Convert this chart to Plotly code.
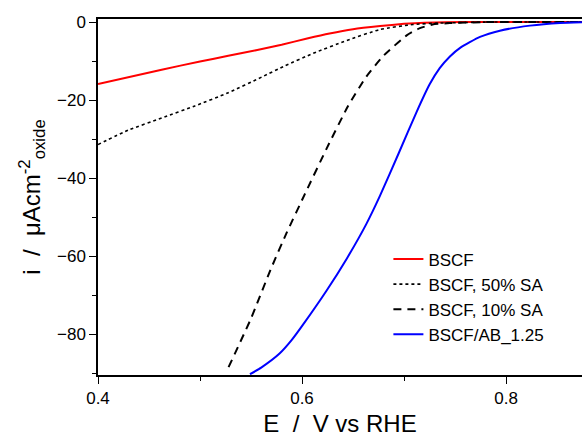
import plotly.graph_objects as go

# BSCF (red)
bscf_x = [0.40, 0.4624, 0.50, 0.5277, 0.555, 0.58, 0.605, 0.627, 0.65, 0.6765, 0.70, 0.72, 0.76, 0.80, 0.875]
bscf_y = [-15.9, -12.2, -10.1, -8.65, -7.2, -5.8, -4.2, -2.9, -1.8, -1.0, -0.45, -0.15, 0.0, 0.0, 0.0]

# BSCF, 50% SA (dotted)
sa50_x = [0.40, 0.4297, 0.4624, 0.495, 0.5277, 0.5604, 0.5833, 0.611, 0.644, 0.6765, 0.709, 0.735, 0.78, 0.875]
sa50_y = [-31.4, -27.7, -24.6, -21.5, -18.1, -14.1, -11.2, -8.0, -4.7, -1.9, -0.6, -0.25, 0.0, 0.0]

# BSCF, 10% SA (dashed)
sa10_x = [0.528, 0.55, 0.569, 0.585, 0.603, 0.624, 0.645, 0.663, 0.68, 0.7026, 0.715, 0.728, 0.745, 0.78, 0.875]
sa10_y = [-88.5, -76.0, -63.6, -54.0, -44.0, -32.5, -21.6, -14.0, -8.6, -3.4, -1.6, -0.6, -0.25, 0.0, 0.0]

# BSCF/AB_1.25 (blue)
ab_x = [0.549, 0.56, 0.578, 0.59, 0.601, 0.624, 0.644, 0.663, 0.6765, 0.695, 0.7124, 0.725, 0.735, 0.745,
        0.755, 0.7745, 0.794, 0.8235, 0.853, 0.875]
ab_y = [-90.3, -88.6, -85.0, -81.5, -77.6, -68.9, -60.6, -51.8, -44.5, -33.5, -23.0, -16.0, -11.8, -8.8,
        -6.6, -3.8, -2.2, -0.9, -0.2, 0.0]

names = ["BSCF", "BSCF, 50% SA", "BSCF, 10% SA", "BSCF/AB_1.25"]

font_family = "Liberation Sans, Arial, sans-serif"

fig = go.Figure()
fig.add_trace(go.Scatter(x=bscf_x, y=bscf_y, mode="lines", name=names[0],
                         line=dict(color="#ff0000", width=2, shape="spline", smoothing=0.5)))
fig.add_trace(go.Scatter(x=sa50_x, y=sa50_y, mode="lines", name=names[1],
                         line=dict(color="#000000", width=1.6, dash="dot", shape="spline", smoothing=0.5)))
fig.add_trace(go.Scatter(x=sa10_x, y=sa10_y, mode="lines", name=names[2],
                         line=dict(color="#000000", width=2, dash="8px,6px", shape="spline", smoothing=0.5)))
fig.add_trace(go.Scatter(x=ab_x, y=ab_y, mode="lines", name=names[3],
                         line=dict(color="#0000ff", width=2, shape="spline", smoothing=0.5)))

fig.update_layout(
    width=582, height=440,
    margin=dict(l=98, r=0, t=19, b=65),
    paper_bgcolor="white", plot_bgcolor="white",
    font=dict(family=font_family, color="black", size=17),
    showlegend=True,
    legend=dict(x=0.60, y=0.375, xanchor="left", yanchor="top",
                bgcolor="rgba(0,0,0,0)", font=dict(size=17), tracegroupgap=0),
    xaxis=dict(
        range=[0.4, 0.8745], dtick=0.2, tick0=0.4,
        showgrid=False, zeroline=False,
        showline=True, linecolor="black", linewidth=1.5, mirror=True,
        ticks="outside", ticklen=7, tickwidth=1.3, tickcolor="black",
        tickfont=dict(size=17),
        minor=dict(dtick=0.1, ticks="outside", ticklen=4, tickwidth=1.3, tickcolor="black"),
        title=dict(text="E  /  V vs RHE", font=dict(size=24), standoff=8),
    ),
    yaxis=dict(
        range=[-90.5, 0.8], dtick=20, tick0=0,
        showgrid=False, zeroline=False,
        showline=True, linecolor="black", linewidth=1.5,
        ticks="outside", ticklen=7, tickwidth=1.3, tickcolor="black",
        tickfont=dict(size=17),
        minor=dict(dtick=10, ticks="outside", ticklen=4, tickwidth=1.3, tickcolor="black"),
        title=dict(text="i  /  μAcm<sup>-2</sup><sub>oxide</sub>", font=dict(size=24), standoff=10),
    ),
)

fig.write_html("out.html")
